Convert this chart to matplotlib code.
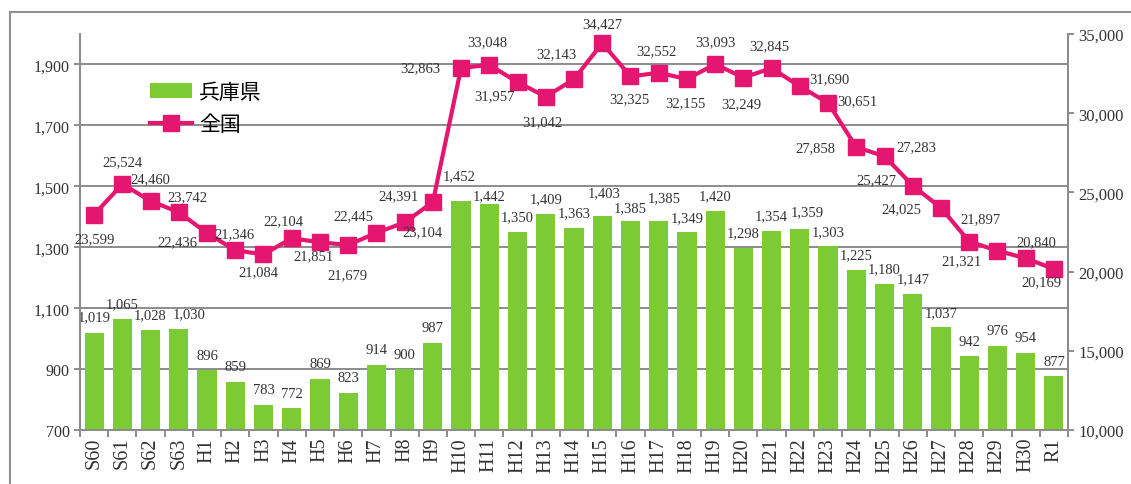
import matplotlib
matplotlib.use("Agg")
import matplotlib.pyplot as plt
from matplotlib.patches import Rectangle, Patch
from matplotlib.lines import Line2D
from matplotlib.ticker import FuncFormatter, FixedLocator

# 年度
years = ["S60", "S61", "S62", "S63"] + ["H%d" % i for i in range(1, 31)] + ["R1"]

# 兵庫県 (左軸)
hyogo = [1019, 1065, 1028, 1030, 896, 859, 783, 772, 869, 823, 914, 900, 987,
         1452, 1442, 1350, 1409, 1363, 1403, 1385, 1385, 1349, 1420, 1298,
         1354, 1359, 1303, 1225, 1180, 1147, 1037, 942, 976, 954, 877]

# 全国 (右軸)
zenkoku = [23599, 25524, 24460, 23742, 22436, 21346, 21084, 22104, 21851, 21679,
           22445, 23104, 24391, 32863, 33048, 31957, 31042, 32143, 34427, 32325,
           32552, 32155, 33093, 32249, 32845, 31690, 30651, 27858, 27283, 25427,
           24025, 21897, 21321, 20840, 20169]

# ラベル位置 (pixel offset)
line_lbl_off = [(0, -24), (0, 22), (0, 22), (9, 16), (-30, -9), (-1, 17), (-5, -17),
                (-8, 18), (-6, -13), (-1, -30), (-23, 17), (18, -9), (-34, 6),
                (-41, 0), (-2, 23), (-23, -13), (-3, -25), (-18, 26), (0, 19),
                (-1, -22), (-2, 22), (-1, -24), (0, 23), (-2, -26), (-2, 22),
                (30, 8), (29, 2), (-41, -1), (32, 10), (-36, 6), (-40, -1),
                (11, 23), (-36, -10), (11, 17), (-12, -13)]
bar_lbl_off = {0: (0, 16), 3: (10, 16), 13: (-2, 25), 14: (0, 8), 18: (2, 23),
               19: (0, 14), 20: (6, 24), 25: (7, 18)}

GREEN = "#7CCB35"
PINK = "#E5166F"
GRID = "#8C8C8C"
TXT = "#333333"

plt.rcParams['font.family'] = ['Liberation Serif', 'Noto Sans CJK JP']

fig = plt.figure(figsize=(11.31, 4.85), dpi=100)
fig.patches.append(Rectangle((10 / 1131, -0.05), 1.2, 1.05 - 13 / 485,
                             transform=fig.transFigure, fill=False,
                             edgecolor="#909090", lw=1.5))

ax = fig.add_axes([80 / 1131, 1 - 431 / 485, 988 / 1131, 396 / 485])
ax2 = ax.twinx()

x = list(range(len(years)))
ax.bar(x, hyogo, width=0.68, color=GREEN, zorder=2)
ax.set_ylim(700, 2000)
ax.set_xlim(-0.5, len(years) - 0.5)
ax.set_yticks([700, 900, 1100, 1300, 1500, 1700, 1900])
ax.yaxis.set_major_formatter(FuncFormatter(lambda v, p: f"{int(v):,}"))
ax.grid(axis='y', color=GRID, lw=1.4, zorder=0)
ax.set_axisbelow(True)

ax.set_xticks(x)
ax.set_xticklabels(years, rotation=90, fontsize=14.5, color=TXT)
ax.tick_params(axis='x', length=0, pad=5)
ax.xaxis.set_minor_locator(FixedLocator([i - 0.5 for i in range(len(years) + 1)]))
ax.tick_params(axis='x', which='minor', length=5, color=GRID, width=1.4)
ax.tick_params(axis='y', labelsize=11.5, colors=GRID, labelcolor=TXT, length=4, width=1.4)

for i, v in enumerate(hyogo):
    dx, dy = bar_lbl_off.get(i, (0, 15))
    ax.annotate(f"{v:,}", xy=(i, v), xytext=(dx, dy), textcoords="offset pixels",
                ha='center', va='center', fontsize=10.5, color=TXT, zorder=5)

ax2.plot(x, zenkoku, color=PINK, lw=3, marker='s', markersize=12, zorder=4)
ax2.set_ylim(10000, 35000)
ax2.set_yticks([10000, 15000, 20000, 25000, 30000, 35000])
ax2.yaxis.set_major_formatter(FuncFormatter(lambda v, p: f"{int(v):,}"))
ax2.tick_params(axis='y', labelsize=12, colors=GRID, labelcolor=TXT, length=4, width=1.4)

for i, v in enumerate(zenkoku):
    dx, dy = line_lbl_off[i]
    ax2.annotate(f"{v:,}", xy=(i, v), xytext=(dx, dy), textcoords="offset pixels",
                 ha='center', va='center', fontsize=10.5, color=TXT, zorder=6)

for a in (ax, ax2):
    a.spines['top'].set_visible(False)
    for s in ('left', 'right', 'bottom'):
        a.spines[s].set_color(GRID)
        a.spines[s].set_linewidth(1.4)

handles = [Patch(facecolor=GREEN, edgecolor='none'),
           Line2D([], [], color=PINK, lw=3, marker='s', markersize=12)]
ax2.legend(handles, ["兵庫県", "全国"], loc='upper left',
           bbox_to_anchor=(150 / 1131, 1 - 82 / 485), bbox_transform=fig.transFigure,
           frameon=False, prop={'family': ['Noto Sans CJK JP'], 'size': 15},
           handlelength=2.0, handleheight=0.7, handletextpad=0.35,
           labelspacing=0.5, borderpad=0, borderaxespad=0)

fig.savefig("out.png", dpi=100)
